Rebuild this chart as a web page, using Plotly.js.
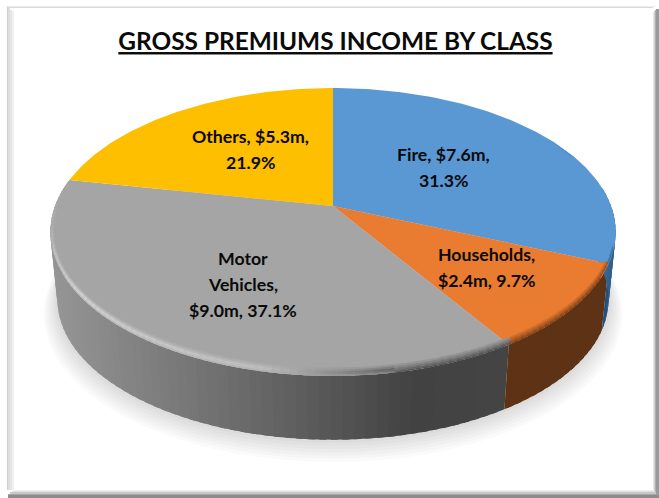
<!DOCTYPE html>
<html>
<head>
<meta charset="utf-8">
<script src="https://cdn.plot.ly/plotly-3.0.1.min.js"></script>
<style>html,body{margin:0;padding:0;background:#fff}#chart{width:659px;height:498px}</style>
</head>
<body>
<div id="chart"></div>
<script>
// ---- data ----
const classes   = ['Fire', 'Households', 'Motor Vehicles', 'Others'];
const premiums  = [7.6, 2.4, 9.0, 5.3];
const shares    = [31.3, 9.7, 37.1, 21.9];
const labelLines = [['Fire, $7.6m,', '31.3%'], ['Households,', '$2.4m, 9.7%'], ['Motor', 'Vehicles,', '$9.0m, 37.1%'], ['Others, $5.3m,', '21.9%']];

// ---- styling ----
const sliceTop   = ['#5a98d4', '#e97c30', '#a5a5a5', '#fdbf00'];
const labelAt    = [[443,167.5],[486,267.5],[243,284],[250,149]];
const greyStops  = [[50,[150,150,150]],[150,[128,128,128]],[250,[106,106,106]],[330,[88,88,88]],[420,[66,66,66]],[505,[68,68,68]]];

// ---- projection of the tilted disc ----
const CX=333, CY=206, A=278, B=139.3, K=0.1806;
const DEG=Math.PI/180;
function topPt(th,r){ const X=r*Math.sin(th*DEG), Y=r*Math.cos(th*DEG), w=1+K*Y; return [CX+A*X/w, CY-B*Y/w]; }
function botPt(th,g){ g=g||0; const s=0.975*(1+g/280); const X=Math.sin(th*DEG), Y=Math.cos(th*DEG), w=1+K*Y; return [CX+s*A*X/w, 274+g-s*B*Y/w]; }
function ringPt(th,f){ const p=topPt(th,1); return [p[0]+(CX-p[0])*f*0.012, p[1]+(CY-p[1])*f*0.05]; }
function mix(a,b,t){ return [0,1,2].map(i=>a[i]+(b[i]-a[i])*t); }
function hex(c){ return [parseInt(c.slice(1,3),16),parseInt(c.slice(3,5),16),parseInt(c.slice(5,7),16)]; }
function rgb(c){ return 'rgb('+c.map(v=>Math.round(v)).join(',')+')'; }
function poly(pts,color,opacity){
  return {type:'scatter',mode:'lines',x:pts.map(p=>p[0]),y:pts.map(p=>p[1]),fill:'toself',fillcolor:color,
    line:{width:0},opacity:opacity==null?1:opacity,hoverinfo:'skip',showlegend:false};
}
const total=shares.reduce((a,b)=>a+b,0);
const edges=[0]; shares.forEach(s=>edges.push(edges[edges.length-1]+s/total*360));
function sliceOf(th){ for(let i=0;i<shares.length;i++){ if(th>=edges[i]&&th<edges[i+1]) return i; } return 0; }

const traces=[];
// soft shadow under the disc
for(let g=14;g>=2;g-=2){ const p=[]; for(let t=0;t<=360;t+=4)p.push(botPt(t,g)); traces.push(poly(p,'#000',0.018)); }

function greyAt(x){ for(let i=1;i<greyStops.length;i++){ if(x<=greyStops[i][0]){ const a=greyStops[i-1],b=greyStops[i]; return mix(a[1],b[1],Math.max(0,(x-a[0])/(b[0]-a[0]))); } } return greyStops[greyStops.length-1][1]; }
function sideColor(i,th,x){
  if(i===0) return mix([60,115,165],[36,80,120],Math.min(1,Math.max(0,(th-80)/30)));
  if(i===1) return [94,50,20];
  return greyAt(x);
}
// side wall: strips run slice by slice, each overlapping the next so no seams show
const STEP=2;
[2,1,0].forEach(i=>{
  const start=Math.max(edges[i],82), end=Math.min(edges[i+1],296);
  for(let t=end;t>start;t-=STEP){
    const t0=Math.max(start,t-STEP), t1=Math.min(end,t+STEP*0.6);
    const a=topPt(t0,1), b=topPt(t1,1), c=botPt(t1), d=botPt(t0);
    traces.push(poly([a,b,c,d,a],rgb(sideColor(i,(t0+t)/2,(a[0]+topPt(t,1)[0])/2))));
  }
});
// top faces
shares.forEach((s,i)=>{
  const p=[[CX,CY]];
  for(let t=edges[i];t<edges[i+1];t+=1)p.push(topPt(t,1));
  p.push(topPt(edges[i+1],1)); p.push([CX,CY]);
  traces.push(poly(p,sliceTop[i]));
});
// bevel along the visible rim
function bevelColor(th){
  const i=sliceOf(th);
  if(i===0){ return th<60?null:mix(hex(sliceTop[0]),[38,85,130],Math.min(1,(th-60)/25)); }
  if(i===1) return [128,66,26];
  if(i===2){
    if(th<166) return [84,84,84];
    if(th<192) return mix([84,84,84],[190,190,190],(th-166)/26);
    if(th<235) return mix([190,190,190],[212,212,212],(th-192)/43);
    return mix([212,212,212],[170,170,170],Math.min(1,(th-235)/40));
  }
  return null;
}
const RINGS=[1,0.78,0.56,0.36,0.16,0];
const LIGHT=[0.25,0.6,1,0.9,0.55];
for(let t=60;t<290;t+=1.5){
  const mid=t+0.75, bc=bevelColor(mid); if(!bc) continue;
  const i=sliceOf(mid), base=hex(sliceTop[i]);
  const light=(i===2&&mid>170);
  const inner=(i===0)?2:0;
  const hiEnd=Math.min(t+2.2,edges[i+1]);
  for(let k=inner;k<RINGS.length-1;k++){
    const frac=(k+1-inner)/(RINGS.length-1-inner);
    const col=light?mix(base,bc,LIGHT[k]):mix(base,bc,frac);
    const q=[ringPt(t,RINGS[k]),ringPt(hiEnd,RINGS[k]),ringPt(hiEnd,RINGS[k+1]),ringPt(t,RINGS[k+1])];
    q.push(q[0]);
    traces.push(poly(q,rgb(col)));
  }
}

// frame
const rect=(x0,y0,x1,y1,c)=>({type:'rect',xref:'x',yref:'y',x0,y0,x1,y1,fillcolor:c,line:{width:0},layer:'below'});
const shapes=[
  rect(6,6,655,7,'#ececec'), rect(7,7,653,8,'#d9d9d9'),
  rect(7,7,8,490,'#cfcfcf'), rect(8,8,10,490,'#dedede'), rect(10,10,12,490,'#e6e6e6'), rect(12,11,14,490,'#f0f0f0'),
  rect(653,12,654,494,'#e8e8e8'), rect(654,11,655,495,'#cfcfcf'), rect(655,10,656,496,'#b0b0b0'), rect(656,9,659,498,'#9a9a9a'),
  rect(14,490,654,491,'#f0f0f0'), rect(12,491,655,492,'#e0e0e0'), rect(10,492,656,494,'#c8c8c8'), rect(8,494,657,495,'#a8a8a8'), rect(8,495,659,498,'#8c8c8c')
];

const LINE_GAP=26;
const annotations=[];
labelLines.forEach((lines,i)=>lines.forEach((txt,j)=>annotations.push({
  x:labelAt[i][0],y:labelAt[i][1]+(j-(lines.length-1)/2)*LINE_GAP,xref:'x',yref:'y',text:txt,showarrow:false,
  font:{family:'Lato, "Open Sans", sans-serif',size:17.7,color:'#0a0a0a',weight:700},align:'center',xanchor:'center',yanchor:'middle'
})));

Plotly.newPlot('chart',traces,{
  width:659,height:498,margin:{l:0,r:0,t:0,b:0},
  paper_bgcolor:'#ffffff',plot_bgcolor:'#ffffff',showlegend:false,hovermode:false,
  title:{text:'GROSS PREMIUMS INCOME BY CLASS',x:335.5/659,xanchor:'center',xref:'paper',y:1-41.5/498,yref:'paper',yanchor:'middle',
    font:{family:'Lato, sans-serif',size:24.4,weight:700,color:'#0a0a0a',lineposition:'under'}},
  xaxis:{range:[0,659],visible:false,fixedrange:true},
  yaxis:{range:[498,0],visible:false,fixedrange:true},
  shapes,annotations
},{displayModeBar:false,staticPlot:true});
</script>
</body>
</html>
